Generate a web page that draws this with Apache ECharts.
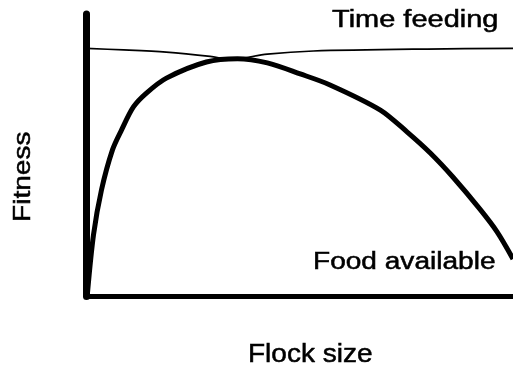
<!DOCTYPE html>
<html>
<head>
<meta charset="utf-8">
<script src="https://cdn.jsdelivr.net/npm/echarts@6/dist/echarts.min.js"></script>
<style>
  html, body { margin: 0; padding: 0; background: #fff; }
  #chart { width: 513px; height: 370px; }
</style>
</head>
<body>
<div id="chart"></div>
<script>
// Flock size (relative units, 0–100) and fitness (relative units, 0–100)
const foodFlock = [0.23, 1.64, 3.51, 6.09, 8.2, 11.0, 14.05, 18.74, 28.1, 35.4, 42.4, 50.1, 57.1, 68.9, 75.2, 80.6, 85.9, 92.2, 96.3, 100];
const foodFitness = [1.24, 21.8, 37.7, 51.9, 58.9, 67.1, 72.0, 77.3, 83.0, 84.2, 82.7, 78.8, 74.9, 66.0, 58.2, 50.8, 42.3, 31.0, 22.8, 13.3];

const timeFlock = [0, 8.7, 18.7, 29.0, 34.2, 36.8, 42.4, 53.2, 79.9, 100];
const timeFitness = [87.8, 87.3, 86.5, 85.0, 83.9, 84.4, 85.8, 86.9, 87.6, 87.8];

const xAxisTitle = 'Flock size';
const yAxisTitle = 'Fitness';
const foodLabel = 'Food available';
const timeLabel = 'Time feeding';

const pairs = (xs, ys) => xs.map((x, i) => [x, ys[i]]);

const FONT = 'Liberation Sans, Arial, sans-serif';
const chart = echarts.init(document.getElementById('chart'), null, { renderer: 'canvas' });

const bareAxis = (width) => ({
  type: 'value',
  min: 0,
  max: 100,
  axisLine: { show: true, lineStyle: { color: '#000', width: width } },
  axisTick: { show: false },
  axisLabel: { show: false },
  splitLine: { show: false }
});

const textStyle = (text, size) => ({
  text: text,
  font: size + 'px ' + FONT,
  fill: '#000',
  stroke: '#000',
  lineWidth: 0.5,
  textAlign: 'left',
  textVerticalAlign: 'middle'
});

chart.setOption({
  animation: false,
  backgroundColor: '#fff',
  grid: { left: 86.5, right: 0, top: 14, bottom: 73.5, containLabel: false },
  xAxis: bareAxis(5),
  yAxis: bareAxis(7),
  series: [
    {
      name: foodLabel,
      type: 'line',
      data: pairs(foodFlock, foodFitness),
      smooth: 0.3,
      showSymbol: false,
      lineStyle: { color: '#000', width: 5 },
      z: 3
    },
    {
      name: timeLabel,
      type: 'line',
      data: pairs(timeFlock, timeFitness),
      smooth: 0.3,
      showSymbol: false,
      lineStyle: { color: '#000', width: 1.7 },
      z: 4
    }
  ],
  graphic: [
    { type: 'text', x: 332, y: 20.9, scaleX: 1.26, style: textStyle(timeLabel, 23) },
    { type: 'text', x: 313, y: 262.2, scaleX: 1.22, style: textStyle(foodLabel, 23) },
    { type: 'text', x: 248, y: 355.5, scaleX: 1.12, style: textStyle(xAxisTitle, 25) },
    { type: 'text', x: 23.6, y: 222, rotation: Math.PI / 2, scaleX: 1.17, style: textStyle(yAxisTitle, 24) }
  ]
});
</script>
</body>
</html>
